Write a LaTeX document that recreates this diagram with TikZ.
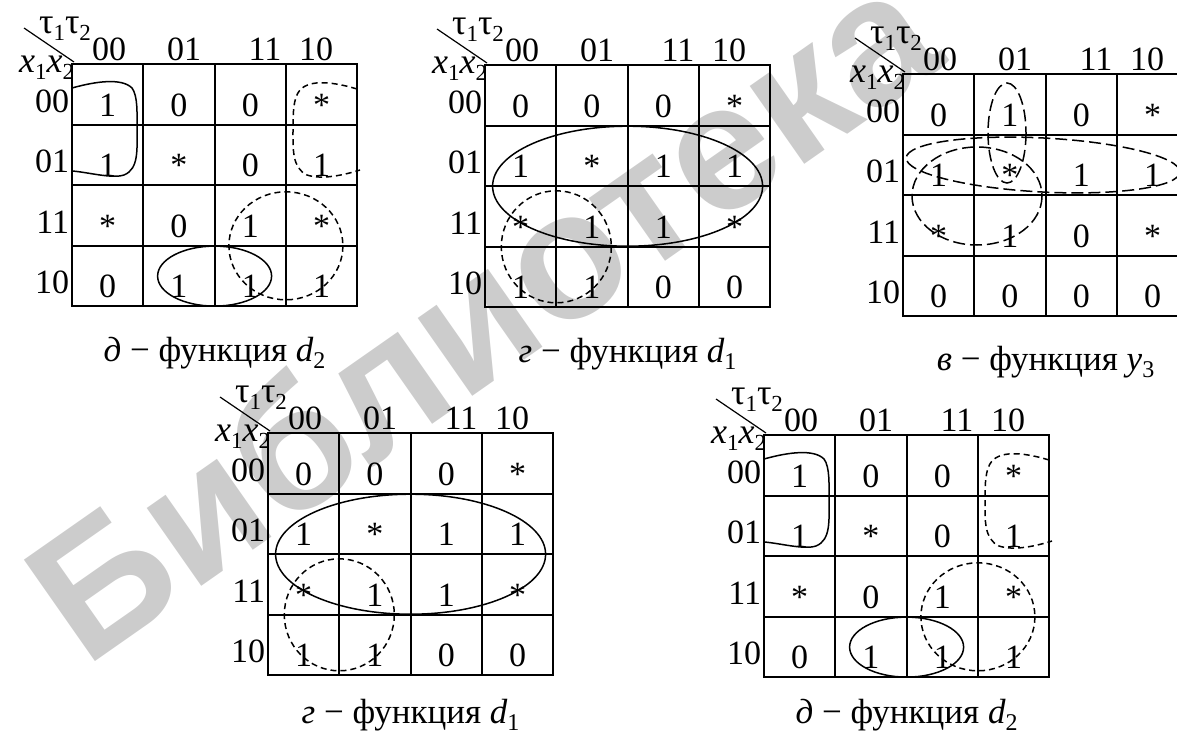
\documentclass[tikz,border=0pt]{standalone}
\usepackage{fontspec}
\setmainfont{Liberation Serif}
\setsansfont{Liberation Sans}
\newcommand\sbx[1]{\raisebox{-0.22em}{\fontsize{23}{23}\selectfont #1}}
\newcommand\sbc[1]{\raisebox{-0.2em}{\fontsize{24}{24}\selectfont #1}}
\def\cw{71.3}
\def\ch{60.6}
\tikzset{
  every node/.style={font=\fontsize{34}{38}\selectfont, inner sep=0pt, outer sep=0pt},
  gridline/.style={line width=2pt},
  loopsolid/.style={line width=1.5pt},
  loopdash/.style={line width=1.5pt, dash pattern=on 6pt off 4pt},
  loopdashlong/.style={line width=1.5pt, dash pattern=on 12pt off 5pt},
  val/.style={anchor=base},
  hdr/.style={font=\fontsize{36}{38}\selectfont},
  capt/.style={anchor=base, font=\fontsize{35}{38}\selectfont},
  wm/.style={text=black!20, font=\fontsize{180}{180}\selectfont\sffamily\bfseries},
}
\newcommand{\kmap}[6]{%
  \begin{scope}[shift={(#2,#3)}]
    \draw[gridline] (0,0) rectangle ({4*\cw},{4*\ch});
    \foreach \i in {1,2,3}{
      \draw[gridline] (0,{\i*\ch}) -- ({4*\cw},{\i*\ch});
      \draw[gridline] ({\i*\cw},0) -- ({\i*\cw},{4*\ch});
    }
    \draw[line width=1.2pt] (-48,-36) -- (2,-2);
    \node[hdr, anchor=base] (#1t) at (-7,-31) {τ\sbx{1}τ\sbx{2}};
    \node[hdr, anchor=base east] (#1x) at (2,8) {\itshape x\sbx{\upshape 1}x\sbx{\upshape 2}};
    \foreach \x/\t [count=\k] in {37/00,112/01,193/11,244/10}
      \node[anchor=base] (#1c\k) at (\x,-4) {\t};
    \foreach \t [count=\k from 0] in {00,01,11,10}
      \node[anchor=base east] (#1r\k) at (-3,{\k*\ch+48}) {\t};
    \foreach \v [count=\k from 0] in {#4}{
      \pgfmathtruncatemacro\rr{\k/4}
      \pgfmathtruncatemacro\cc{mod(\k,4)}
      \node[val] (#1v\k) at ({(\cc+0.5)*\cw},{\rr*\ch+52}) {\v};
    }
    \node[capt] (#1cap) at ({2*\cw},#6) {#5};
  \end{scope}}
\newcommand{\dloops}{%
  \draw[loopsolid] (0,24) .. controls (25,17) and (50,14) .. (60,24)
     .. controls (66,32) and (65,50) .. (65,66)
     .. controls (65,85) and (67,105) .. (52,111)
     .. controls (40,115) and (15,108) .. (0,107);
  \draw[loopdash] (285,25) .. controls (262,18) and (238,15) .. (228,26)
     .. controls (221,34) and (221,50) .. (221,66)
     .. controls (221,85) and (220,104) .. (235,111)
     .. controls (250,116) and (272,111) .. (288,106);
  \draw[loopdash] ({3*\cw},{3*\ch}) ellipse [x radius=57, y radius=54];
  \draw[loopsolid] ({2*\cw},{3.5*\ch}) ellipse [x radius=57, y radius=30];
}
\newcommand{\gloops}{%
  \draw[loopsolid] ({2*\cw},{2*\ch}) ellipse [x radius=135, y radius=60];
  \draw[loopdash] ({\cw},{3*\ch}) ellipse [x radius=55, y radius=56];
}
\begin{document}
\begin{tikzpicture}[x=1pt,y=-1pt]
  \useasboundingbox (0,0) rectangle (1177,736);
  \clip (0,0) rectangle (1177,736);
  \node[wm, rotate=35, anchor=base west] (wm) at (85,668) {Библиотека};

  \kmap{a}{72}{64}{1,0,0,*,1,*,0,1,*,0,1,*,0,1,1,1}{{\itshape д} − функция {\itshape d}\sbc{2}}{297}
  \begin{scope}[shift={(72,64)}]\dloops\end{scope}

  \kmap{b}{485}{65}{0,0,0,*,1,*,1,1,*,1,1,*,1,1,0,0}{{\itshape г} − функция {\itshape d}\sbc{1}}{297}
  \begin{scope}[shift={(485,65)}]\gloops\end{scope}

  \kmap{c}{903}{74}{0,1,0,*,1,*,1,1,*,1,0,*,0,0,0,0}{{\itshape в} − функция {\itshape y}\sbc{3}}{296}
  \begin{scope}[shift={(903,74)}]
    \draw[loopdashlong] (104,59) ellipse [x radius=19, y radius=50];
    \draw[loopdashlong, rotate around={-3:(140,91)}] (140,91) ellipse [x radius=137, y radius=27];
    \draw[loopdashlong] (74,122) ellipse [x radius=65, y radius=49];
  \end{scope}

  \kmap{d}{268}{433}{0,0,0,*,1,*,1,1,*,1,1,*,1,1,0,0}{{\itshape г} − функция {\itshape d}\sbc{1}}{290}
  \begin{scope}[shift={(268,433)}]\gloops\end{scope}

  \kmap{e}{764}{435}{1,0,0,*,1,*,0,1,*,0,1,*,0,1,1,1}{{\itshape д} − функция {\itshape d}\sbc{2}}{288}
  \begin{scope}[shift={(764,435)}]\dloops\end{scope}
\end{tikzpicture}
\end{document}
